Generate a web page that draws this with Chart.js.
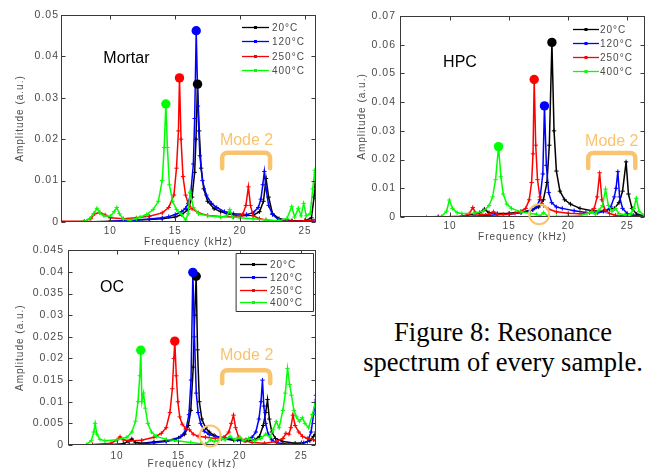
<!DOCTYPE html>
<html><head><meta charset="utf-8">
<script src="https://cdn.jsdelivr.net/npm/chart.js@4.4.1/dist/chart.umd.min.js"></script>
<style>
html,body{margin:0;padding:0;background:#fff;}
#wrap{position:relative;width:651px;height:468px;overflow:hidden;background:#fff;}
canvas{position:absolute;}
#cap{position:absolute;left:353px;top:317px;width:300px;text-align:center;font-family:'Liberation Serif','Times New Roman',serif;font-size:26.5px;line-height:30px;color:#000;white-space:nowrap;}
</style></head><body>
<div id="wrap">
<div id="cap">Figure 8: Resonance<br>spectrum of every sample.</div>
<canvas id="cMortar" width="330" height="250" style="left:0;top:0;width:330px;height:250px"></canvas>
<canvas id="cOC" width="330" height="228" style="left:0;top:240px;width:330px;height:228px"></canvas>
<canvas id="cHPC" width="321" height="250" style="left:330px;top:0;width:321px;height:250px"></canvas>
</div>
<script>
// ---------------- DATA ----------------
const seriesLabels = ['20°C', '120°C', '250°C', '400°C'];
const xTickValues = [10, 15, 20, 25];
const xTickLabels = ['10', '15', '20', '25'];

// Mortar
const mortarYTicks = [0, 0.01, 0.02, 0.03, 0.04, 0.05];
const mortarYLabels = ['0', '0.01', '0.02', '0.03', '0.04', '0.05'];
const mortarF20 = [6.2, 8, 10, 12, 13, 14, 15, 15.5, 16, 16.3, 16.5, 16.6, 16.72, 16.85, 17.0, 17.2, 17.5, 18, 18.5, 19, 20, 21, 21.5, 21.8, 22.0, 22.2, 22.5, 23, 24, 25, 25.5, 25.7, 25.85];
const mortarA20 = [0, 0, 0.0002, 0.0005, 0.0006, 0.0008, 0.0012, 0.0018, 0.003, 0.006, 0.012, 0.02, 0.0333, 0.022, 0.013, 0.008, 0.005, 0.0032, 0.0025, 0.002, 0.0015, 0.0016, 0.0025, 0.005, 0.0105, 0.006, 0.002, 0.0008, 0.0003, 0.0003, 0.001, 0.006, 0.012];
const mortarF120 = [6.2, 8, 10, 11, 12, 13, 14, 14.5, 15, 15.5, 15.8, 16.0, 16.2, 16.4, 16.5, 16.62, 16.75, 16.9, 17.1, 17.4, 17.8, 18.2, 18.8, 19.5, 20.5, 21.0, 21.4, 21.6, 21.75, 21.87, 22.0, 22.2, 22.5, 23, 24, 25, 25.85];
const mortarA120 = [0, 0, 0.0001, 0.0003, 0.0005, 0.0007, 0.001, 0.0013, 0.0018, 0.0025, 0.0033, 0.0045, 0.007, 0.014, 0.025, 0.0462, 0.028, 0.016, 0.01, 0.0065, 0.0045, 0.0035, 0.0025, 0.002, 0.0018, 0.0022, 0.0035, 0.0055, 0.009, 0.0122, 0.008, 0.004, 0.0018, 0.0005, 0.0001, 0.0001, 0.0006];
const mortarF250 = [6.2, 8, 8.5, 8.8, 9.2, 9.6, 10, 11, 12, 13, 14, 14.5, 14.9, 15.1, 15.25, 15.33, 15.45, 15.6, 15.8, 16, 16.3, 16.8, 17.5, 18.5, 19.5, 20.2, 20.45, 20.64, 20.8, 21, 21.5, 22, 23, 24, 25, 25.85];
const mortarA250 = [0.0002, 0.0002, 0.0008, 0.002, 0.0023, 0.0017, 0.001, 0.0008, 0.001, 0.0014, 0.0022, 0.0035, 0.0065, 0.013, 0.022, 0.0348, 0.02, 0.011, 0.0065, 0.0045, 0.0032, 0.0022, 0.0016, 0.0013, 0.0012, 0.0018, 0.004, 0.0085, 0.004, 0.0015, 0.0008, 0.0005, 0.0002, 0.0002, 0.0003, 0.0006];
const mortarF400 = [6.2, 8, 8.4, 8.7, 8.97, 9.2, 9.5, 10, 10.3, 10.5, 10.7, 11, 11.5, 12, 12.3, 12.8, 13.3, 13.7, 14.0, 14.15, 14.28, 14.4, 14.55, 14.8, 15.1, 15.5, 15.8, 16.0, 16.15, 16.4, 16.8, 17.5, 18.5, 19.0, 19.2, 19.4, 20, 21, 22, 23, 23.6, 23.98, 24.2, 24.49, 24.7, 24.9, 25.1, 25.4, 25.6, 25.75, 25.9];
const mortarA400 = [0, 0.0001, 0.0008, 0.002, 0.0033, 0.0022, 0.0015, 0.0014, 0.0025, 0.0035, 0.002, 0.0007, 0.0004, 0.0008, 0.0012, 0.0018, 0.003, 0.005, 0.01, 0.018, 0.0285, 0.018, 0.009, 0.005, 0.003, 0.0018, 0.0005, 0.002, 0.0072, 0.0035, 0.002, 0.0015, 0.0012, 0.0015, 0.003, 0.0012, 0.001, 0.0008, 0.0005, 0.0003, 0.0008, 0.0037, 0.0012, 0.0033, 0.0015, 0.0045, 0.0015, 0.002, 0.008, 0.0125, 0.006];
const mortarPeakF = [16.72, 16.62, 15.33, 14.28];
const mortarPeakA = [0.0333, 0.0462, 0.0348, 0.0285];

// HPC
const hpcYTicks = [0, 0.01, 0.02, 0.03, 0.04, 0.05, 0.06, 0.07];
const hpcYLabels = ['0', '0.01', '0.02', '0.03', '0.04', '0.05', '0.06', '0.07'];
const hpcF20 = [5.8, 9, 11, 12.5, 12.9, 13.3, 14, 15, 16, 17, 17.5, 17.9, 18.2, 18.4, 18.62, 18.8, 19.0, 19.3, 19.7, 20.2, 21, 22, 23, 23.5, 23.9, 24.3, 24.6, 24.9, 25.1, 25.4, 25.8, 26.5];
const hpcA20 = [0, 0, 0.0003, 0.0015, 0.0027, 0.0015, 0.0012, 0.0013, 0.0017, 0.0025, 0.0035, 0.006, 0.012, 0.025, 0.0608, 0.03, 0.016, 0.009, 0.006, 0.0045, 0.003, 0.0022, 0.002, 0.0028, 0.003, 0.005, 0.009, 0.0192, 0.008, 0.003, 0.001, 0.0003];
const hpcF120 = [5.8, 9, 11, 12, 13, 14, 15, 16, 16.8, 17.3, 17.6, 17.85, 17.99, 18.15, 18.35, 18.6, 19, 19.5, 20.5, 21.5, 22.5, 23.2, 23.6, 23.9, 24.05, 24.2, 24.35, 24.6, 25, 25.5, 26.5];
const hpcA120 = [0, 0, 0.0001, 0.0003, 0.0005, 0.0008, 0.001, 0.0015, 0.0022, 0.0035, 0.006, 0.015, 0.0387, 0.018, 0.0085, 0.005, 0.0035, 0.003, 0.0022, 0.0016, 0.0015, 0.002, 0.0035, 0.007, 0.01, 0.0158, 0.007, 0.003, 0.0012, 0.0006, 0.0002];
const hpcF250 = [5.8, 9, 11, 11.6, 11.92, 12.2, 12.7, 13.3, 13.67, 14.0, 14.5, 15, 15.5, 16, 16.4, 16.7, 16.9, 17.02, 17.12, 17.25, 17.4, 17.6, 17.9, 18.3, 19, 20, 21, 21.8, 22.2, 22.45, 22.66, 22.85, 23.1, 23.5, 24, 25, 26.5];
const hpcA250 = [0, 0, 0.0002, 0.001, 0.0033, 0.0012, 0.0008, 0.001, 0.0018, 0.001, 0.0009, 0.001, 0.0013, 0.002, 0.003, 0.006, 0.012, 0.022, 0.0479, 0.025, 0.013, 0.007, 0.004, 0.0028, 0.0018, 0.0013, 0.0011, 0.0015, 0.003, 0.007, 0.0154, 0.006, 0.0025, 0.0012, 0.0006, 0.0003, 0.0002];
const hpcF400 = [5.8, 8, 9.3, 9.7, 9.94, 10.2, 10.6, 11, 12, 12.8, 13.3, 13.6, 13.85, 14.1, 14.3, 14.5, 14.8, 15.2, 16, 16.8, 17.3, 17.6, 17.9, 18.3, 19, 20, 21, 21.6, 22.0, 22.3, 22.6, 22.9, 23.16, 23.4, 23.7, 24.0, 24.3, 24.8, 25.3, 25.55, 25.76, 26.0, 26.5];
const hpcA400 = [0, 0, 0.0003, 0.002, 0.0059, 0.003, 0.0015, 0.0012, 0.0013, 0.002, 0.004, 0.007, 0.013, 0.0245, 0.014, 0.008, 0.0045, 0.003, 0.0018, 0.0012, 0.001, 0.0003, 0.0015, 0.0002, 0.0002, 0.0003, 0.0004, 0.0012, 0.0018, 0.001, 0.0024, 0.004, 0.0097, 0.004, 0.002, 0.003, 0.0012, 0.0008, 0.001, 0.003, 0.0065, 0.002, 0.0005];
const hpcPeakF = [18.62, 17.99, 17.12, 14.1];
const hpcPeakA = [0.0608, 0.0387, 0.0479, 0.0245];

// OC
const ocYTicks = [0, 0.005, 0.01, 0.015, 0.02, 0.025, 0.03, 0.035, 0.04, 0.045];
const ocYLabels = ['0', '0.005', '0.01', '0.015', '0.02', '0.025', '0.03', '0.035', '0.04', '0.045'];
const ocF20 = [6, 9, 10.5, 10.9, 11.2, 11.5, 12, 13, 14, 15, 15.5, 15.8, 16.0, 16.2, 16.32, 16.44, 16.55, 16.7, 16.9, 17.2, 17.5, 17.9, 18.5, 19.5, 20.5, 21.2, 21.6, 21.9, 22.1, 22.25, 22.4, 22.6, 22.9, 23.5, 24.5, 25.2, 25.7, 26.0, 26.2];
const ocA20 = [0, 0, 0.0003, 0.0008, 0.0014, 0.0006, 0.0004, 0.0007, 0.001, 0.0016, 0.0025, 0.0045, 0.008, 0.018, 0.03, 0.039, 0.022, 0.01, 0.006, 0.004, 0.003, 0.0022, 0.0015, 0.0011, 0.001, 0.0012, 0.002, 0.0045, 0.0075, 0.0105, 0.006, 0.003, 0.0015, 0.0008, 0.0004, 0.0005, 0.001, 0.002, 0.003];
const ocF120 = [6, 9, 11, 12, 13, 14, 14.7, 15.2, 15.6, 15.85, 16.02, 16.17, 16.3, 16.45, 16.6, 16.8, 17.1, 17.5, 18, 18.8, 19.8, 20.5, 21.0, 21.3, 21.55, 21.72, 21.84, 21.95, 22.1, 22.3, 22.6, 23, 24, 25, 25.5, 25.8, 26.0, 26.2];
const ocA120 = [0, 0, 0.0001, 0.0003, 0.0005, 0.0008, 0.0012, 0.002, 0.0035, 0.007, 0.015, 0.0399, 0.025, 0.012, 0.0075, 0.005, 0.0032, 0.0024, 0.002, 0.0016, 0.0012, 0.0012, 0.0018, 0.003, 0.006, 0.01, 0.015, 0.009, 0.005, 0.0025, 0.0012, 0.0005, 0.0002, 0.0003, 0.0008, 0.003, 0.007, 0.0115];
const ocF250 = [6, 8, 9.5, 10.0, 10.24, 10.5, 11, 12, 13, 13.6, 14.0, 14.3, 14.5, 14.62, 14.7, 14.82, 14.95, 15.1, 15.3, 15.6, 15.9, 16.2, 16.6, 17.2, 18, 18.7, 19.1, 19.3, 19.48, 19.65, 19.9, 20.4, 21, 22, 23, 23.5, 23.75, 24.0, 24.15, 24.32, 24.5, 24.8, 25.1, 25.5, 26, 26.2];
const ocA250 = [0, 0.0001, 0.0004, 0.0012, 0.0019, 0.0012, 0.0009, 0.0011, 0.0018, 0.0027, 0.004, 0.0075, 0.013, 0.02, 0.024, 0.016, 0.01, 0.0065, 0.0048, 0.0038, 0.0035, 0.0025, 0.002, 0.0018, 0.0015, 0.0018, 0.003, 0.005, 0.0069, 0.004, 0.0018, 0.001, 0.0006, 0.0004, 0.0008, 0.0015, 0.0027, 0.0025, 0.004, 0.0069, 0.0045, 0.003, 0.002, 0.0015, 0.0012, 0.001];
const ocF400 = [6, 7.5, 7.9, 8.1, 8.21, 8.35, 8.6, 9, 10, 10.8, 11.2, 11.5, 11.7, 11.85, 11.93, 12.02, 12.15, 12.3, 12.5, 12.8, 13.2, 14, 15, 16, 16.8, 17.2, 17.6, 17.9, 18.2, 18.53, 18.8, 19.2, 19.6, 20.0, 20.3, 20.7, 21.2, 21.7, 22.1, 22.47, 22.7, 22.96, 23.2, 23.5, 23.7, 23.88, 24.05, 24.2, 24.4, 24.6, 24.85, 25.08, 25.3, 25.6, 25.9, 26.2];
const ocA400 = [0, 0.0001, 0.001, 0.003, 0.005, 0.0025, 0.0013, 0.001, 0.0012, 0.0018, 0.003, 0.0055, 0.01, 0.016, 0.0219, 0.01, 0.012, 0.0085, 0.005, 0.003, 0.002, 0.0013, 0.0009, 0.0006, 0.0003, 0.0002, 0.0012, 0.0008, 0.001, 0.0015, 0.0012, 0.002, 0.0012, 0.0018, 0.001, 0.0015, 0.001, 0.0015, 0.0025, 0.0019, 0.0035, 0.0054, 0.004, 0.008, 0.012, 0.0177, 0.014, 0.0115, 0.008, 0.0065, 0.0055, 0.0063, 0.005, 0.004, 0.007, 0.0105];
const ocPeakF = [16.44, 16.17, 14.7, 11.93];
const ocPeakA = [0.039, 0.0399, 0.024, 0.0219];

// ---------------- STYLE / RENDER ----------------
const seriesColors = ['#000000', '#0000ff', '#ff0000', '#00ff00'];
const ORANGE = '#f9c46f';
const TXT = '#4a4a4a';
const FONT = "'Liberation Sans', Arial, sans-serif";
Chart.defaults.font.family = FONT;
Chart.defaults.font.size = 10;
Chart.defaults.color = TXT;

function pts(f, a) { return f.map((v, i) => ({x: v, y: a[i]})); }

const extras = {
  id: 'extras',
  beforeDraw(chart) { chart.ctx.letterSpacing = '1px'; },
  afterDraw(chart, args, o) {
    const {ctx, chartArea: a, scales: {x, y}} = chart;
    ctx.save();
    // frame with inward ticks
    ctx.strokeStyle = '#3a3a3a'; ctx.lineWidth = 1;
    const L = Math.round(a.left) + 0.5, R = Math.round(a.right) - 0.5, T = Math.round(a.top) + 0.5, B = Math.round(a.bottom) - 0.5;
    ctx.strokeRect(L, T, R - L, B - T);
    ctx.beginPath();
    x.ticks.forEach(t => { const p = Math.round(x.getPixelForValue(t.value)) + 0.5; ctx.moveTo(p, B); ctx.lineTo(p, B - 4); ctx.moveTo(p, T); ctx.lineTo(p, T + 4); });
    y.ticks.forEach(t => { const p = Math.round(y.getPixelForValue(t.value)) + 0.5; ctx.moveTo(L, p); ctx.lineTo(L + 4, p); ctx.moveTo(R, p); ctx.lineTo(R - 4, p); });
    ctx.stroke();

    // x axis title
    ctx.font = '10px ' + FONT;
    ctx.letterSpacing = '1px';
    ctx.fillStyle = TXT; ctx.textAlign = 'center'; ctx.textBaseline = 'middle';
    ctx.fillText('Frequency (kHz)', (a.left + a.right) / 2, a.bottom + o.xTitleDy);

    // sample name
    ctx.letterSpacing = '0px';
    ctx.font = '16px ' + FONT;
    ctx.fillStyle = '#000'; ctx.textAlign = 'left'; ctx.textBaseline = 'middle';
    ctx.fillText(o.name.text, x.getPixelForValue(o.name.x), y.getPixelForValue(o.name.y));
    // Mode 2 label
    ctx.fillStyle = ORANGE; ctx.textAlign = 'center';
    ctx.fillText('Mode 2', x.getPixelForValue(o.mode.x), y.getPixelForValue(o.mode.y));
    // bracket
    const bx1 = x.getPixelForValue(o.bracket.x1), bx2 = x.getPixelForValue(o.bracket.x2);
    const byT = y.getPixelForValue(o.bracket.yTop), byB = y.getPixelForValue(o.bracket.yBot);
    ctx.strokeStyle = ORANGE; ctx.lineWidth = 4.5; ctx.lineJoin = 'round'; ctx.lineCap = 'round';
    ctx.beginPath(); ctx.moveTo(bx1, byB); ctx.arcTo(bx1, byT, bx1 + 5, byT, 5); ctx.arcTo(bx2, byT, bx2, byT + 5, 5); ctx.lineTo(bx2, byB); ctx.stroke();
    // circle
    if (o.circle) {
      ctx.lineWidth = 2; ctx.beginPath();
      ctx.arc(x.getPixelForValue(o.circle.x), y.getPixelForValue(o.circle.y), o.circle.r, 0, Math.PI * 2); ctx.stroke();
    }
    // legend
    const lg = o.legend;
    if (lg.box) {
      ctx.strokeStyle = '#333'; ctx.lineWidth = 1;
      ctx.fillStyle = '#fff';
      ctx.fillRect(Math.round(a.right - lg.boxL) + 0.5, Math.round(a.top + lg.boxT) + 0.5, lg.boxW, lg.boxH);
      ctx.strokeRect(Math.round(a.right - lg.boxL) + 0.5, Math.round(a.top + lg.boxT) + 0.5, lg.boxW, lg.boxH);
    }
    ctx.font = lg.fontSize + 'px ' + FONT;
    ctx.textAlign = 'left'; ctx.textBaseline = 'middle';
    seriesLabels.forEach((lab, i) => {
      const yy = Math.round(a.top + lg.row0 + i * lg.step) + 0.5;
      const x0 = a.right - lg.lineL, x1 = x0 + lg.lineLen;
      ctx.strokeStyle = seriesColors[i]; ctx.lineWidth = 1.3; ctx.lineCap = 'butt';
      ctx.beginPath(); ctx.moveTo(x0, yy); ctx.lineTo(x1, yy); ctx.stroke();
      ctx.fillStyle = seriesColors[i]; ctx.fillRect((x0 + x1) / 2 - 1.5, yy - 1.5, 3, 3);
      ctx.fillStyle = TXT; ctx.letterSpacing = '1px';
      ctx.fillText(lab, a.right - lg.textL, yy + 0.5);
      ctx.letterSpacing = '0px';
    });
    ctx.restore();
  }
};

function makeChart(id, c) {
  const order = [3, 2, 1, 0];
  const datasets = c.series.map((s, i) => ({
    label: seriesLabels[i], data: pts(s[0], s[1]), showLine: true,
    borderColor: seriesColors[i], backgroundColor: seriesColors[i], borderWidth: 1.5,
    pointStyle: 'cross', pointRadius: 2.2, pointBorderWidth: 1, pointBorderColor: seriesColors[i],
    tension: 0, order: order[i]
  }));
  datasets.push({
    label: '', data: pts(c.peaks[0], c.peaks[1]), showLine: false,
    pointStyle: 'circle', pointRadius: 4.7, pointBorderWidth: 0,
    pointBackgroundColor: seriesColors, borderColor: seriesColors, order: -1
  });
  return new Chart(document.getElementById(id), {
    type: 'scatter',
    data: {datasets},
    options: {
      responsive: false, animation: false, events: [],
      layout: {padding: c.pad},
      plugins: {legend: {display: false}, tooltip: {enabled: false}, extras: c.extras},
      scales: {
        x: {
          type: 'linear', min: c.xMin, max: c.xMax,
          afterBuildTicks: s => { s.ticks = xTickValues.map(v => ({value: v})); },
          ticks: {padding: c.xTickPad, color: TXT, callback: (v, i) => xTickLabels[i]},
          grid: {display: false, drawTicks: false}, border: {display: false},
          title: {display: false},
          afterFit: s => { s.height = c.xH; }
        },
        y: {
          type: 'linear', min: 0, max: c.yTicks[c.yTicks.length - 1],
          afterBuildTicks: s => { s.ticks = c.yTicks.map(v => ({value: v})); },
          ticks: {padding: c.yTickPad, color: TXT, font: {size: 10.5}, callback: (v, i) => c.yLabels[i]},
          grid: {display: false, drawTicks: false}, border: {display: false},
          title: {display: true, text: 'Amplitude (a.u.)', color: TXT, padding: {top: c.yTitlePad, bottom: 0}, font: {size: 10, lineHeight: 1.2}},
          afterFit: s => { s.width = c.yW; }
        }
      }
    },
    plugins: [extras]
  });
}

// Mortar: canvas (0,0) 330x250, chart area 61..316 x 15..222
makeChart('cMortar', {
  series: [[mortarF20, mortarA20], [mortarF120, mortarA120], [mortarF250, mortarA250], [mortarF400, mortarA400]],
  peaks: [mortarPeakF, mortarPeakA],
  yTicks: mortarYTicks, yLabels: mortarYLabels,
  xMin: 6.2, xMax: 25.85,
  pad: {left: 0, top: 15, right: 14, bottom: 0},
  yW: 61, xH: 28, xTickPad: 3, yTickPad: 2, yTitlePad: 14,
  extras: {
    xTitleDy: 20,
    name: {text: 'Mortar', x: 9.46, y: 0.0394},
    mode: {x: 20.5, y: 0.0196},
    bracket: {x1: 18.62, x2: 22.31, yTop: 0.0167, yBot: 0.0130},
    circle: null,
    legend: {lineL: 74, lineLen: 27, textL: 44, row0: 12, step: 14.3, fontSize: 10, box: false}
  }
});

// OC: canvas (0,240) 330x228, chart area 68..316 x 250..445 on the page
makeChart('cOC', {
  series: [[ocF20, ocA20], [ocF120, ocA120], [ocF250, ocA250], [ocF400, ocA400]],
  peaks: [ocPeakF, ocPeakA],
  yTicks: ocYTicks, yLabels: ocYLabels,
  xMin: 6.0, xMax: 26.2,
  pad: {left: 0, top: 10, right: 14, bottom: 0},
  yW: 68, xH: 23, xTickPad: 5, yTickPad: 4, yTitlePad: 14,
  extras: {
    xTitleDy: 19,
    name: {text: 'OC', x: 8.61, y: 0.0364},
    mode: {x: 20.55, y: 0.0207},
    bracket: {x1: 18.56, x2: 22.47, yTop: 0.0173, yBot: 0.0143},
    circle: {x: 17.58, y: 0.0021, r: 10.5},
    legend: {lineL: 76, lineLen: 27, textL: 46, row0: 14, step: 12.7, fontSize: 10, box: true, boxL: 80, boxT: 3, boxW: 77, boxH: 58}
  }
});

// HPC: canvas (330,0) 321x250, chart area 400..645 x 16..217 on the page
makeChart('cHPC', {
  series: [[hpcF20, hpcA20], [hpcF120, hpcA120], [hpcF250, hpcA250], [hpcF400, hpcA400]],
  peaks: [hpcPeakF, hpcPeakA],
  yTicks: hpcYTicks, yLabels: hpcYLabels,
  xMin: 5.76, xMax: 26.5,
  pad: {left: 10, top: 16, right: 6, bottom: 5},
  yW: 60, xH: 28, xTickPad: 3, yTickPad: 4, yTitlePad: 16,
  extras: {
    xTitleDy: 20,
    name: {text: 'HPC', x: 9.41, y: 0.0538},
    mode: {x: 23.69, y: 0.0263},
    bracket: {x1: 21.69, x2: 25.68, yTop: 0.0223, yBot: 0.0171},
    circle: {x: 17.54, y: 0.001, r: 10},
    legend: {lineL: 72, lineLen: 26, textL: 45, row0: 13, step: 14, fontSize: 10, box: false}
  }
});
</script>
</body></html>
